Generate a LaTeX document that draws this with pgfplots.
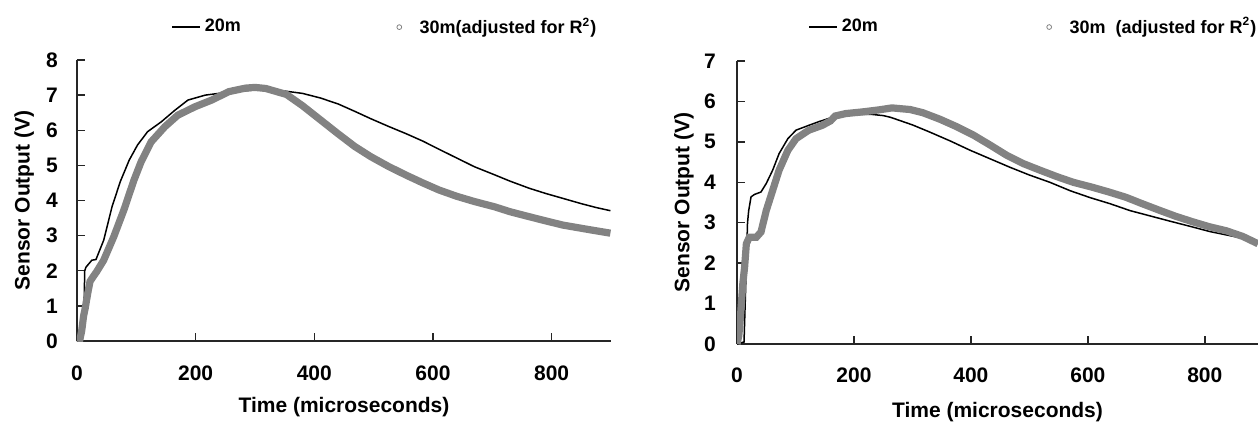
\documentclass[border=0pt]{standalone}
\usepackage{fontspec}
\setmainfont{Liberation Sans}
\usepackage{pgfplots}
\pgfplotsset{compat=1.18}
\definecolor{bandgray}{RGB}{130,130,130}
\pgfplotsset{
  myaxis/.style={
    scale only axis,
    axis x line=bottom, axis y line=left,
    axis line style={-, line width=0.8pt, black!85},
    tick style={black!85, line width=0.7pt},
    major tick length=3.8pt,
    tick align=inside,
    xmin=0,
    xtick={0,200,400,600,800},
    /pgf/number format/assume math mode=true,
    tick label style={font=\fontsize{10.5}{12}\selectfont\bfseries},
    label style={font=\fontsize{10.5}{12}\selectfont\bfseries},
    ylabel={Sensor Output (V)},
    xlabel={Time (microseconds)},
    legend style={draw=none, fill=none, legend columns=2, inner sep=0pt,
      font=\fontsize{9}{10}\selectfont\bfseries, anchor=west},
  },
  blk/.style={black, line width=0.75pt,
    legend image code/.code={\draw[##1] (0pt,0pt) -- (14pt,0pt);}},
  gry/.style={bandgray, line width=3.6pt, forget plot},
}
\begin{document}
\begin{tikzpicture}
\path[use as bounding box] (0,0) rectangle (629pt,-211pt);
% ---------------- left panel ----------------
\begin{axis}[myaxis,
  at={(38.5pt,-170.5pt)}, anchor=south west,
  width=267pt, height=140.5pt,
  xmax=900, ymin=0, ymax=8, ytick={0,1,...,8},
  xticklabel style={anchor=center, yshift=-16pt},
  yticklabel style={anchor=center, xshift=-12.5pt},
  xlabel style={at={(axis description cs:0.5,-0.235)}, anchor=center},
  ylabel style={at={(axis description cs:-0.099,0.5)}, anchor=center},
  legend style={at={(axis description cs:0.176,1.117)},
    /tikz/every even column/.style={column sep=76pt}},
]
\addplot[blk] coordinates {
(0,0) (8,0) (10,0.9) (12,1.05) (13,2.0) (15,2.1) (20,2.2) (25,2.3) (32,2.32)
(45,2.87) (59,3.82) (73,4.54) (88,5.15) (102,5.58) (119,5.96) (142,6.24)
(165,6.57) (187,6.86) (216,7.0) (239,7.05) (270,7.1) (300,7.15) (330,7.15)
(353,7.11) (380,7.05) (410,6.92) (440,6.75) (468,6.54) (495,6.33) (525,6.11)
(555,5.9) (583,5.69) (610,5.46) (640,5.21) (670,4.96) (704,4.73) (730,4.55)
(762,4.35) (790,4.2) (819,4.06) (850,3.91) (875,3.8) (899,3.71)
};
\addlegendentry{20m}
\addplot[gry] coordinates {
(0,0) (5,0.05) (8,0.3) (11,0.7) (14,0.95) (18,1.35) (22,1.7) (28,1.85) (33,1.97)
(45,2.3) (62,2.97) (79,3.73) (96,4.58) (108,5.1) (125,5.67) (148,6.1) (170,6.43)
(199,6.67) (227,6.86) (256,7.1) (284,7.2) (300,7.22) (318,7.19) (353,7.02)
(380,6.7) (410,6.3) (440,5.9) (468,5.54) (495,5.25) (525,4.97) (555,4.72)
(583,4.5) (610,4.3) (640,4.12) (670,3.97) (704,3.82) (730,3.68) (762,3.54)
(790,3.42) (819,3.3) (860,3.18) (899,3.07)
};
\addlegendimage{only marks, mark=o, mark size=1.2pt, bandgray}
\addlegendentry{\hspace{7pt}30m(adjusted for R\textsuperscript{2})}
\end{axis}
% ---------------- right panel ----------------
\begin{axis}[myaxis,
  at={(368.5pt,-172pt)}, anchor=south west,
  width=260.5pt, height=141.5pt,
  xmax=891, ymin=0, ymax=7, ytick={0,1,...,7},
  xticklabel style={anchor=center, yshift=-15.5pt},
  yticklabel style={anchor=center, xshift=-13.5pt},
  xlabel style={at={(axis description cs:0.5,-0.24)}, anchor=center},
  ylabel style={at={(axis description cs:-0.102,0.5)}, anchor=center},
  legend style={at={(axis description cs:0.136,1.12)},
    /tikz/every even column/.style={column sep=82.5pt}},
]
\addplot[blk] coordinates {
(0,0) (12,0.05) (14,1.0) (16,2.0) (18,3.0) (20,3.3) (24,3.64) (30,3.7) (41,3.76)
(50,3.97) (61,4.3) (72,4.71) (87,5.08) (101,5.29) (123,5.41) (140,5.5) (157,5.58)
(170,5.65) (200,5.68) (230,5.68) (250,5.65) (262,5.61) (300,5.42) (330,5.24)
(365,5.02) (399,4.79) (433,4.58) (467,4.37) (500,4.18) (535,4.0) (570,3.79)
(604,3.62) (638,3.47) (672,3.3) (706,3.17) (740,3.04) (775,2.91) (809,2.78)
(843,2.68) (870,2.6) (891,2.52)
};
\addlegendentry{20m}
\addplot[gry] coordinates {
(0,0) (3,0.2) (5,0.5) (7,0.9) (10,1.5) (13,1.9) (16,2.48) (21,2.64) (33,2.64)
(41,2.77) (50,3.3) (61,3.8) (72,4.3) (87,4.79) (101,5.08) (123,5.29) (146,5.41)
(160,5.52) (168,5.64) (186,5.7) (214,5.74) (242,5.79) (265,5.84) (296,5.8)
(318,5.72) (347,5.56) (375,5.38) (404,5.17) (433,4.92) (461,4.67) (490,4.46)
(518,4.3) (547,4.14) (575,4.0) (607,3.88) (636,3.76) (665,3.63) (693,3.47)
(722,3.31) (750,3.16) (780,3.02) (808,2.9) (837,2.8) (865,2.66) (891,2.48)
};
\addlegendimage{only marks, mark=o, mark size=1.2pt, bandgray}
\addlegendentry{\hspace{7pt}30m\ \ (adjusted for R\textsuperscript{2})}
\end{axis}
\end{tikzpicture}
\end{document}
